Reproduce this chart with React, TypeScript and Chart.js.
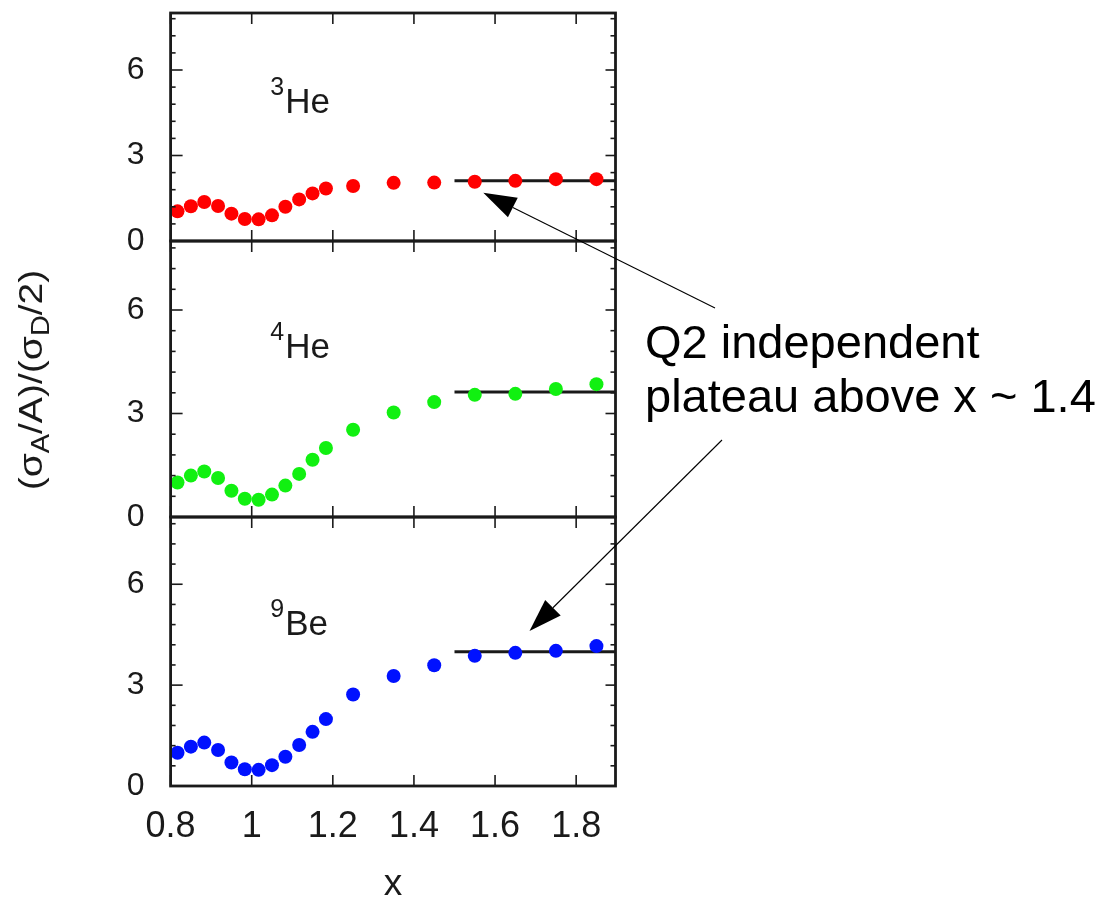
import React, { useEffect, useRef } from 'react';
import { Chart, registerables } from 'chart.js';

Chart.register(...registerables);

// ---------- data ----------
const xValues = [0.817, 0.85, 0.883, 0.917, 0.95, 0.983, 1.017, 1.05, 1.083, 1.117, 1.15, 1.183, 1.25, 1.35, 1.45, 1.55, 1.65, 1.75, 1.85];
const he3Values = [1.04, 1.22, 1.37, 1.23, 0.96, 0.77, 0.76, 0.9, 1.2, 1.46, 1.67, 1.84, 1.93, 2.04, 2.05, 2.08, 2.11, 2.17, 2.17];
const he4Values = [1.0, 1.2, 1.32, 1.13, 0.76, 0.53, 0.5, 0.65, 0.91, 1.25, 1.66, 2.0, 2.53, 3.03, 3.33, 3.54, 3.57, 3.71, 3.85];
const be9Values = [0.99, 1.17, 1.29, 1.07, 0.7, 0.5, 0.48, 0.62, 0.87, 1.22, 1.61, 1.99, 2.72, 3.27, 3.59, 3.87, 3.96, 4.02, 4.16];
const plateauRange = [1.5, 1.897];
const plateauLevels = [2.11, 3.62, 3.99];

const xMin = 0.8;
const xMax = 1.897;
const yMin = 0;
const yMax = 8;
const xTicks = [0.8, 1, 1.2, 1.4, 1.6, 1.8];
const xTickLabels = ['0.8', '1', '1.2', '1.4', '1.6', '1.8'];
const yTicks = [0, 3, 6];
const yTickLabels = ['0', '3', '6'];
const yMinorStep = 0.6;

const panelIds = ['yTop', 'yMid', 'yBot'];
const panelWeights = [228, 276, 269];
const panelSeries = [he3Values, he4Values, be9Values];
const panelMass = ['3', '4', '9'];
const panelSymbol = ['He', 'He', 'Be'];
const seriesColors = ['#ff0000', '#11f011', '#0011ff'];

const yTitleParts = [
  { text: '(σ', sub: false },
  { text: 'A', sub: true },
  { text: '/A)/(σ', sub: false },
  { text: 'D', sub: true },
  { text: '/2)', sub: false },
];
const annotationLines = ['Q2 independent', 'plateau above x ~ 1.4'];

const FONT = '"Liberation Sans", Arial, sans-serif';
const INK = '#1a1a1a';

const zeroPadding = (s: any) => {
  s.paddingTop = 0;
  s.paddingBottom = 0;
  s.paddingLeft = 0;
  s.paddingRight = 0;
};

const decorPlugin = {
  id: 'decor',
  afterDatasetsDraw(chart: any) {
    const ctx = chart.ctx;
    const xs = chart.scales.x;
    const { left, right } = chart.chartArea;
    ctx.save();
    ctx.strokeStyle = INK;
    ctx.lineCap = 'butt';
    const seg = (x1: number, y1: number, x2: number, y2: number) => {
      ctx.beginPath();
      ctx.moveTo(x1, y1);
      ctx.lineTo(x2, y2);
      ctx.stroke();
    };
    panelIds.forEach((id) => {
      const ys = chart.scales[id];
      const top = ys.top;
      const bottom = ys.bottom;
      ctx.lineWidth = 1.6;
      xTicks.forEach((v) => {
        const px = xs.getPixelForValue(v);
        seg(px, top, px, top + 11);
        seg(px, bottom, px, bottom - 11);
      });
      const n = Math.round((yMax - yMin) / yMinorStep);
      for (let i = 0; i <= n; i++) {
        const v = yMin + i * yMinorStep;
        const py = ys.getPixelForValue(v);
        const major = yTicks.some((t) => Math.abs(t - v) < 1e-6);
        seg(left, py, left + (major ? 12 : 5), py);
        seg(right, py, right - (major ? 10 : 5), py);
      }
      ctx.lineWidth = 2.8;
      ctx.strokeRect(left, top, right - left, bottom - top);
    });

    // nucleus labels
    const labelY = [4.5, 4.6, 4.5];
    ctx.fillStyle = INK;
    ctx.textBaseline = 'alphabetic';
    panelIds.forEach((id, i) => {
      const ys = chart.scales[id];
      const px = xs.getPixelForValue(1.0825);
      const py = ys.getPixelForValue(labelY[i]);
      ctx.font = `35px ${FONT}`;
      ctx.textAlign = 'left';
      ctx.fillText(panelSymbol[i], px, py);
      ctx.font = `25px ${FONT}`;
      ctx.textAlign = 'right';
      ctx.fillText(panelMass[i], px - 1, py - 18);
    });

    // y axis title with subscripts
    ctx.save();
    ctx.translate(33, 380);
    ctx.rotate(-Math.PI / 2);
    ctx.scale(1.15, 1);
    const baseSize = 34;
    const subSize = 25;
    let total = 0;
    yTitleParts.forEach((p) => {
      ctx.font = `${p.sub ? subSize : baseSize}px ${FONT}`;
      total += ctx.measureText(p.text).width;
    });
    let tx = -total / 2;
    ctx.textAlign = 'left';
    yTitleParts.forEach((p) => {
      ctx.font = `${p.sub ? subSize : baseSize}px ${FONT}`;
      ctx.fillText(p.text, tx, p.sub ? 9 + 7 : 9);
      tx += ctx.measureText(p.text).width;
    });
    ctx.restore();

    // annotation text
    ctx.fillStyle = '#000';
    ctx.font = `47px ${FONT}`;
    ctx.textAlign = 'left';
    ctx.fillText(annotationLines[0], 645, 358);
    ctx.fillText(annotationLines[1], 645, 412);

    // arrows
    const arrow = (x1: number, y1: number, x2: number, y2: number) => {
      const ang = Math.atan2(y2 - y1, x2 - x1);
      const len = 33;
      const hw = 11;
      const bx = x2 - len * Math.cos(ang);
      const by = y2 - len * Math.sin(ang);
      ctx.strokeStyle = '#000';
      ctx.lineWidth = 1.1;
      seg(x1, y1, bx, by);
      ctx.fillStyle = '#000';
      ctx.beginPath();
      ctx.moveTo(x2, y2);
      ctx.lineTo(bx + hw * Math.sin(ang), by - hw * Math.cos(ang));
      ctx.lineTo(bx - hw * Math.sin(ang), by + hw * Math.cos(ang));
      ctx.closePath();
      ctx.fill();
    };
    arrow(715, 308, xs.getPixelForValue(1.571), chart.scales.yTop.getPixelForValue(1.69));
    arrow(722, 440, xs.getPixelForValue(1.685), chart.scales.yBot.getPixelForValue(4.61));
    ctx.restore();
  },
};

const makeY = (weight: number) => ({
  type: 'linear',
  position: 'left',
  stack: 'panels',
  stackWeight: weight,
  min: yMin,
  max: yMax,
  afterBuildTicks: (s: any) => {
    s.ticks = yTicks.map((v) => ({ value: v }));
  },
  afterFit: (s: any) => {
    s.width = 170.6;
    zeroPadding(s);
  },
  grid: { display: false, drawTicks: false },
  border: { display: false },
  ticks: {
    padding: 26,
    color: INK,
    font: { family: FONT, size: 32 },
    callback: (_v: any, i: number) => yTickLabels[i],
  },
});

export default function App() {
  const ref = useRef<HTMLCanvasElement | null>(null);
  useEffect(() => {
    if (!ref.current) return;
    const datasets: any[] = [];
    panelIds.forEach((id, i) => {
      datasets.push({
        label: panelSymbol[i],
        data: xValues.map((x, k) => ({ x, y: panelSeries[i][k] })),
        yAxisID: id,
        xAxisID: 'x',
        backgroundColor: seriesColors[i],
        borderWidth: 0,
        pointRadius: 7,
        showLine: false,
        order: 0,
      });
      datasets.push({
        label: 'plateau ' + panelSymbol[i],
        data: plateauRange.map((x) => ({ x, y: plateauLevels[i] })),
        yAxisID: id,
        xAxisID: 'x',
        showLine: true,
        borderColor: '#1a1a1a',
        borderWidth: 3,
        pointRadius: 0,
        order: 1,
      });
    });
    const chart = new Chart(ref.current, {
      type: 'scatter',
      data: { datasets },
      options: {
        animation: false,
        responsive: false,
        devicePixelRatio: 1,
        layout: { padding: { left: 0, top: 13, right: 489.5, bottom: 0 } },
        plugins: { legend: { display: false }, tooltip: { enabled: false } },
        scales: {
          x: {
            type: 'linear',
            position: 'bottom',
            min: xMin,
            max: xMax,
            afterBuildTicks: (s: any) => {
              s.ticks = xTicks.map((v) => ({ value: v }));
            },
            afterFit: (s: any) => {
              s.height = 115;
              zeroPadding(s);
            },
            grid: { display: false, drawTicks: false },
            border: { display: false },
            ticks: {
              padding: 19,
              autoSkip: false,
              maxRotation: 0,
              color: INK,
              font: { family: FONT, size: 36 },
              callback: (_v: any, i: number) => xTickLabels[i],
            },
            title: {
              display: true,
              text: 'x',
              color: INK,
              padding: 0,
              font: { family: FONT, size: 37, lineHeight: 0.85 },
            },
          },
          yBot: makeY(panelWeights[2]),
          yMid: makeY(panelWeights[1]),
          yTop: makeY(panelWeights[0]),
        } as any,
      },
      plugins: [decorPlugin],
    } as any);
    return () => chart.destroy();
  }, []);
  return (
    <div style={{ position: 'absolute', left: 0, top: 0, width: 1105, height: 901, background: '#fff' }}>
      <canvas ref={ref} width={1105} height={901} style={{ width: 1105, height: 901 }} />
    </div>
  );
}
